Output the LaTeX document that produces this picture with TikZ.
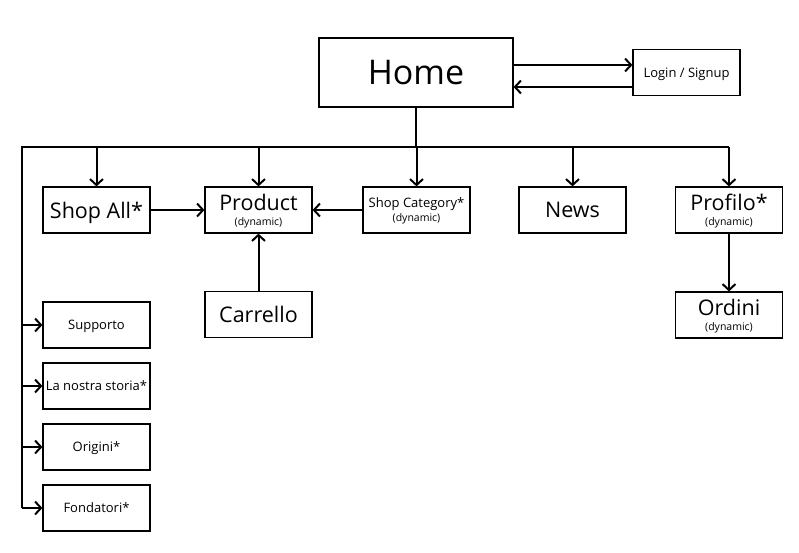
\documentclass[tikz,border=0pt]{standalone}
\usepackage{fontspec}
\setmainfont{Open Sans}
\usetikzlibrary{arrows.meta}

\newcommand{\dyn}[1]{\\[#1]{\fontsize{10.5}{11}\selectfont (dynamic)}}

\begin{document}
\begin{tikzpicture}[
  x=1pt, y=-1pt,
  box/.style={draw, line width=1.2pt, minimum width=107pt, minimum height=46pt, inner sep=0pt, align=center, text depth=0pt},
  big/.style={font=\fontsize{21.5}{23}\selectfont},
  small/.style={font=\fontsize{13}{15}\selectfont},
  link/.style={line width=2pt},
  >={Straight Barb[length=6pt,width=13pt]}
]
\useasboundingbox (0,0) rectangle (799,552);
\node[box, minimum width=194pt, minimum height=69pt, font=\fontsize{34}{36}\selectfont] (home) at (416,72.5) {Home};
\node[box, small] (login) at (686.5,72.5) {Login / Signup};
\node[box, big] (shopall) at (96.5,210) {Shop All*};
\node[box, big] (product) at (258.5,210) {Product\dyn{-8pt}};
\node[box, small] (shopcat) at (416.5,210) {Shop Category*\dyn{-1pt}};
\node[box, big] (news) at (572.5,210) {News};
\node[box, big] (profilo) at (729,210) {Profilo*\dyn{-8pt}};
\node[box, big] (carrello) at (258.5,314.5) {Carrello};
\node[box, big] (ordini) at (729,315) {Ordini\dyn{-8pt}};
\node[box, small] (supporto) at (96.5,325) {Supporto};
\node[box, small] (storia) at (96.5,386) {La nostra storia*};
\node[box, small] (origini) at (96.5,447) {Origini*};
\node[box, small] (fondatori) at (96.5,508) {Fondatori*};
\coordinate (bus) at (416,147);
\coordinate (busL) at (22,147);
\coordinate (busR) at (729,147);
% home and login
\draw[link,->] ([yshift=7.5pt]home.east) -- ([yshift=7.5pt]login.west);
\draw[link,->] ([yshift=-14.5pt]login.west) -- ([yshift=-14.5pt]home.east);
% main bus
\draw[link] (home.south) -- (bus);
\draw[link] (busL |- fondatori) -- (busL) -- (busR);
\foreach \n in {shopall,product,shopcat,news,profilo}
  \draw[link,->] (\n |- bus) -- (\n.north);
\foreach \n in {supporto,storia,origini,fondatori}
  \draw[link,->] (busL |- \n) -- (\n.west);
% product links
\draw[link,->] (shopall) -- (product);
\draw[link,->] (shopcat) -- (product);
\draw[link,->] (carrello) -- (product);
\draw[link,->] (profilo) -- (ordini);
\end{tikzpicture}
\end{document}
